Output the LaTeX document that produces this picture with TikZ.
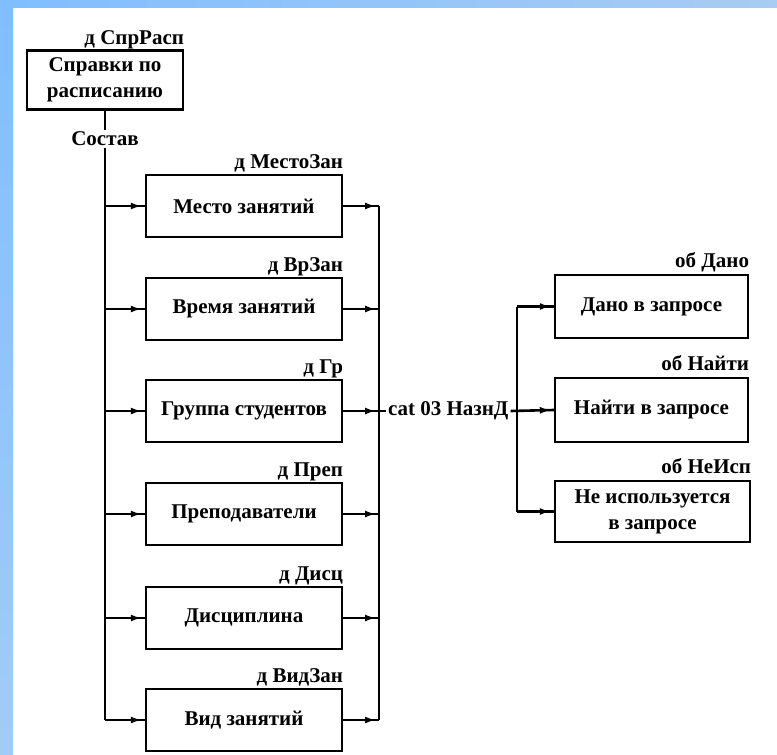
\documentclass[tikz,border=0pt]{standalone}
\usepackage{fontspec}
\setmainfont{Liberation Serif}
\usetikzlibrary{arrows.meta,decorations.markings}
\definecolor{frameA}{RGB}{128,190,255}
\definecolor{frameB}{RGB}{168,204,242}
\definecolor{frameC}{RGB}{162,204,245}
\tikzset{
  every node/.style={font=\fontsize{21}{26}\selectfont\bfseries},
  entity/.style={draw, line width=2.4pt, minimum width=196pt, minimum height=62pt,
    inner sep=0pt, align=center},
  tag/.style={anchor=base east, inner sep=0pt},
  wire/.style={line width=2.6pt},
  flow/.style={wire, postaction={decorate}, decoration={markings,
    mark=at position -3pt with {\arrow{Latex[length=11pt,width=7pt]}}}}
}
\begin{document}
\begin{tikzpicture}[x=1pt,y=-1pt]
\useasboundingbox (0,0) rectangle (777,755);
% page and its blue frame strips
\fill[white] (0,0) rectangle (777,755);
\shade[left color=frameA, right color=frameB] (0,0) rectangle (777,7.5);
\shade[top color=frameA, bottom color=frameC] (0,0) rectangle (13,755);

% root entity
\node[entity, minimum width=156pt, minimum height=59pt] (root) at (105,80)
  {Справки по\\расписанию};
\node[tag] at ([yshift=5pt]root.north east) {д СпрРасп};
\node[inner sep=2pt] (sostav) at (105,139) {Состав};

% attributes of the root
\node[entity] (m1) at (244,206) {Место занятий};
\node[entity] (m2) at (244,309) {Время занятий};
\node[entity] (m3) at (244,411) {Группа студентов};
\node[entity] (m4) at (244,514) {Преподаватели};
\node[entity] (m5) at (244,618) {Дисциплина};
\node[entity] (m6) at (244,720) {Вид занятий};
\node[tag] at ([yshift=5pt]m1.north east) {д МестоЗан};
\node[tag] at ([yshift=5pt]m2.north east) {д ВрЗан};
\node[tag] at ([yshift=5pt]m3.north east) {д Гр};
\node[tag] at ([yshift=5pt]m4.north east) {д Преп};
\node[tag] at ([yshift=5pt]m5.north east) {д Дисц};
\node[tag] at ([yshift=5pt]m6.north east) {д ВидЗан};

% category
\node[anchor=west, inner sep=2pt] (cat) at (386,411) {cat 03 НазнД};

% objects of the category
\node[entity, minimum width=193pt, minimum height=63pt] (d1) at (651.5,306.5) {Дано в запросе};
\node[entity, minimum width=193pt, minimum height=64pt] (d2) at (651.5,410) {Найти в запросе};
\node[entity, minimum width=195pt, minimum height=61pt] (d3) at (652.5,511.5)
  {Не используется\\в запросе};
\node[tag] at ([yshift=6pt]d1.north east) {об Дано};
\node[tag] at ([yshift=6pt]d2.north east) {об Найти};
\node[tag] at ([yshift=6pt]d3.north east) {об НеИсп};

% bus positions
\coordinate (lb) at (105,0);
\coordinate (rb) at (379,0);
\coordinate (qb) at (517,0);

% trunk from the root down to the last attribute
\draw[wire] (root.south) -- (sostav.north);
\draw[wire] (sostav.south) -- (m6.west -| lb);
\foreach \m in {m1,m2,m3,m4,m5,m6}
  \draw[flow] (\m.west -| lb) -- (\m.west);

% collecting bus on the right of the attributes
\draw[wire] (m1.east -| rb) -- (m6.east -| rb);
\foreach \m in {m1,m2,m3,m4,m5,m6}
  \draw[flow] (\m.east) -- (\m.east -| rb);
\draw[wire] (m3.east -| rb) -- (cat.west);

% branches of the category
\draw[wire] (d1.west -| qb) -- (d3.west -| qb);
\draw[flow] (d1.west -| qb) -- (d1.west);
\draw[flow] (cat.east) -- (d2.west);
\draw[flow] (d3.west -| qb) -- (d3.west);
\end{tikzpicture}
\end{document}
